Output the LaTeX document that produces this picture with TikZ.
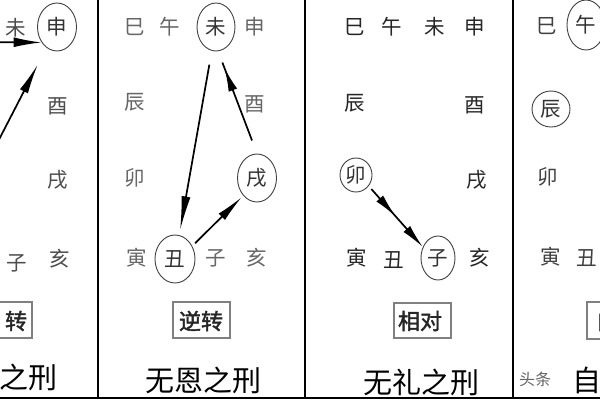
\documentclass[tikz,border=0pt]{standalone}
\usepackage{fontspec}
\setmainfont{Noto Sans CJK SC}
\newfontfamily\cjkb[FakeBold=1.8]{Noto Sans CJK SC}
\usetikzlibrary{shapes.geometric,arrows.meta,decorations.markings}
\begin{document}
\begin{tikzpicture}[x=1pt,y=-1pt,
  br/.style={font=\fontsize{20.5}{20.5}\selectfont, text=#1, inner sep=0pt},
  br/.default={black!70},
  ring/.style 2 args={ellipse, draw=black!75, line width=0.9pt, minimum width=#1pt, minimum height=#2pt, inner sep=0pt, font=\fontsize{20.5}{20.5}\selectfont, text=black!80},
  tag/.style={font=\cjkb\fontsize{22}{22}\selectfont, text=black!85, inner sep=0pt},
  tagbox/.style={draw=black!50, line width=1.1pt},
  title/.style={font=\fontsize{29}{29}\selectfont, text=black, inner sep=0pt},
  lw/.style={line width=1.7pt},
  arr/.style={line width=1.7pt, -{Latex[length=34pt,width=9pt]}},
  midhead/.style={postaction=decorate, decoration={markings, mark=at position #1 with {\arrow{Latex[length=24pt,width=9pt]}}}},
  sep/.style={line width=2pt, black}
]
\useasboundingbox (0,0) rectangle (600,400);
\clip (0,0) rectangle (600,400);
\fill[white] (0,0) rectangle (600,400);

% ---------- panel 1 (partial) ----------
\node[br] (wei1) at (16,28) {未};
\node[ring={39}{48}] (shen1) at (57,27) {申};
\node[br] (you1) at (58,106) {酉};
\node[br] (xu1) at (58,180) {戌};
\node[br] (hai1) at (60,259) {亥};
\node[br] (zi1) at (17,263) {子};
\draw[tagbox] (-25,302) rectangle (32,338);
\node[tag] (tag1) at (16,321) {转};
\node[title] (title1) at (28,377) {之刑};
\coordinate (p1a) at (-20,42);
\coordinate (p1b) at (-10,157);
\draw[lw, -{Latex[length=28pt,width=10pt]}] (p1a) -- (shen1.225);
\draw[lw, -{Latex[length=30pt,width=9pt]}, shorten >=19pt] (p1b) -- (shen1.243);

% ---------- panel 2 ----------
\node[br=black!60] (si2) at (135,27) {巳};
\node[br=black!60] (wu2) at (170,27) {午};
\node[ring={38}{48}] (wei2) at (216,27) {未};
\node[br=black!60] (shen2) at (255,27) {申};
\node[br=black!60] (chen2) at (135,102) {辰};
\node[br=black!60] (you2) at (255,104) {酉};
\node[br=black!60] (mao2) at (135,178) {卯};
\node[ring={39}{48}] (xu2) at (257,178) {戌};
\node[br=black!60] (yin2) at (137,258) {寅};
\node[ring={40}{48}] (chou2) at (175,259) {丑};
\node[br=black!60] (zi2) at (216,258) {子};
\node[br=black!60] (hai2) at (257,258) {亥};
\draw[tagbox] (173,302) rectangle (230,338);
\node[tag] (tag2) at (201,321) {逆转};
\node[title] (title2) at (203,380) {无恩之刑};
\draw[arr, shorten <=14pt, shorten >=5pt] (wei2) -- (chou2);
\draw[lw, midhead=0.84, shorten <=14pt, shorten >=12pt] (xu2.north) -- (wei2.275);
\draw[lw, -{Latex[length=28pt,width=9pt]}, shorten <=4pt, shorten >=2pt] (chou2.37) -- (xu2.232);

% ---------- panel 3 ----------
\node[br=black!85] (si3) at (355,27) {巳};
\node[br=black!85] (wu3) at (392,27) {午};
\node[br=black!85] (wei3) at (435,27) {未};
\node[br=black!85] (shen3) at (475,27) {申};
\node[br=black!85] (chen3) at (355,103) {辰};
\node[br=black!85] (you3) at (475,105) {酉};
\node[ring={32}{34}] (mao3) at (356,175) {卯};
\node[br=black!85] (xu3) at (477,180) {戌};
\node[br=black!85] (yin3) at (357,258) {寅};
\node[br=black!85] (chou3) at (394,260) {丑};
\node[ring={34}{44}] (zi3) at (438,258) {子};
\node[br=black!85] (hai3) at (480,258) {亥};
\draw[tagbox] (394,303) rectangle (451,338);
\node[tag] (tag3) at (420,321) {相对};
\node[title] (title3) at (421,382) {无礼之刑};
\draw[lw, midhead=0.5, -{Latex[length=24pt,width=9pt]}, shorten <=4pt] (mao3.319) -- (zi3.144);

% ---------- panel 4 (partial) ----------
\node[br=black!75] (si4) at (547,26) {巳};
\node[ring={38}{50}] (wu4) at (586,25) {午};
\node[ring={38}{36}] (chen4) at (551,109) {辰};
\node[br=black!75] (mao4) at (548,177) {卯};
\node[br=black!75] (yin4) at (551,257) {寅};
\node[br=black!75] (chou4) at (587,258) {丑};
\draw[tagbox] (587,302) rectangle (644,339);
\node[tag] (tag4) at (607,321) {自};
\node[title] (title4) at (587,380) {自};
\node[font=\fontsize{16}{16}\selectfont, text=black!60, inner sep=0pt] (mark) at (535,379) {头条};

% ---------- frame lines ----------
\draw[sep] (98,0) -- (98,398);
\draw[sep] (305,0) -- (305,398);
\draw[sep] (513,0) -- (513,398);
\draw[sep] (0,397.5) -- (600,397.5);
\end{tikzpicture}
\end{document}
